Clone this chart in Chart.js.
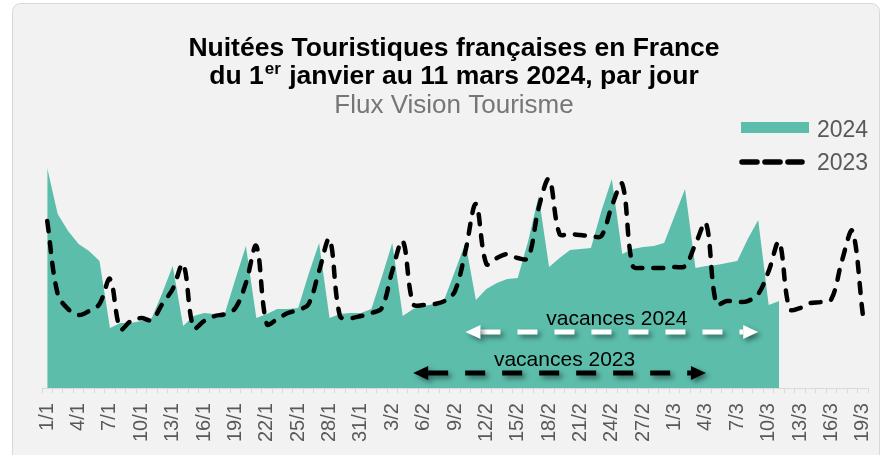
<!DOCTYPE html>
<html>
<head>
<meta charset="utf-8">
<script src="https://cdn.jsdelivr.net/npm/chart.js@4.4.1/dist/chart.umd.min.js"></script>
<style>
  html, body { margin: 0; padding: 0; background: #fff; }
  #wrap { width: 887px; height: 455px; position: relative; }
</style>
</head>
<body>
<div id="wrap"><canvas id="nuitees" width="887" height="455"></canvas></div>
<script>
// jours (calendrier 2024), du 1/1 au 19/3
const days = [
  '1/1','2/1','3/1','4/1','5/1','6/1','7/1','8/1','9/1','10/1','11/1','12/1','13/1','14/1','15/1','16/1',
  '17/1','18/1','19/1','20/1','21/1','22/1','23/1','24/1','25/1','26/1','27/1','28/1','29/1','30/1','31/1',
  '1/2','2/2','3/2','4/2','5/2','6/2','7/2','8/2','9/2','10/2','11/2','12/2','13/2','14/2','15/2','16/2',
  '17/2','18/2','19/2','20/2','21/2','22/2','23/2','24/2','25/2','26/2','27/2','28/2','29/2',
  '1/3','2/3','3/3','4/3','5/3','6/3','7/3','8/3','9/3','10/3','11/3','12/3','13/3','14/3','15/3','16/3',
  '17/3','18/3','19/3'
];

// nuitées (unités relatives, pas d'axe Y sur l'original)
const nuitees2024 = [
  220, 174, 157, 144, 137, 127, 60, 65, 65, 67, 70, 95, 122, 62, 72, 75,
  74, 75, 109, 142, 70, 74, 79, 79, 80, 114, 145, 70, 74, 75, 75,
  79, 111, 145, 72, 79, 82, 84, 89, 117, 145, 88, 99, 105, 109, 110, 147,
  192, 121, 130, 138, 139, 140, 177, 209, 134, 139, 141, 142, 145,
  172, 199, 120, 122, 123, 125, 127, 149, 168, 83, 87
];

const nuitees2023 = [
  167, 94, 79, 73, 77, 84, 109, 59, 67, 70, 68, 84, 99, 124, 60, 67,
  72, 74, 80, 105, 142, 64, 69, 75, 78, 84, 117, 149, 72, 70, 72,
  75, 80, 117, 147, 84, 83, 84, 87, 97, 137, 184, 124, 130, 134, 130, 130,
  180, 209, 154, 154, 153, 152, 152, 182, 204, 122, 120, 120, 120,
  121, 122, 144, 165, 84, 87, 86, 87, 94, 117, 146, 79, 80, 85, 86, 89,
  127, 157, 74
];

// périodes de vacances (début, fin) et hauteur des flèches
const vacances2024 = ['10/2', '9/3'];
const vacances2023 = ['5/2', '4/3'];
const vacancesLevel = [56, 15];

const TEAL = '#5cbdab';
const GREY = '#595959';
const FONT = '"Liberation Sans", Arial, sans-serif';

function drawArrow(ctx, x1, x2, y, color) {
  const head = 15, half = 7;
  ctx.save();
  ctx.shadowColor = 'rgba(0,0,0,0.45)';
  ctx.shadowBlur = 5;
  ctx.shadowOffsetX = 3;
  ctx.shadowOffsetY = 3;
  ctx.strokeStyle = color;
  ctx.fillStyle = color;
  ctx.lineWidth = 5;
  ctx.setLineDash([20, 17]);
  ctx.beginPath();
  ctx.moveTo(x1 + head, y);
  ctx.lineTo(x2 - head, y);
  ctx.stroke();
  ctx.setLineDash([]);
  ctx.beginPath();
  ctx.moveTo(x1, y);
  ctx.lineTo(x1 + head, y - half);
  ctx.lineTo(x1 + head, y + half);
  ctx.closePath();
  ctx.fill();
  ctx.beginPath();
  ctx.moveTo(x2, y);
  ctx.lineTo(x2 - head, y - half);
  ctx.lineTo(x2 - head, y + half);
  ctx.closePath();
  ctx.fill();
  ctx.restore();
}

const decor = {
  id: 'decor',
  beforeDraw(chart) {
    const ctx = chart.ctx;
    ctx.save();
    ctx.fillStyle = '#fff';
    ctx.fillRect(0, 0, chart.width, chart.height);
    ctx.beginPath();
    ctx.roundRect(12.5, 3.5, 867, 470, 8);
    ctx.fillStyle = '#f2f2f2';
    ctx.fill();
    ctx.strokeStyle = '#d9d9d9';
    ctx.lineWidth = 1;
    ctx.stroke();
    ctx.restore();
  },
  afterDatasetsDraw(chart) {
    const ctx = chart.ctx;
    const x = chart.scales.x, y = chart.scales.y;
    const sets = [[vacances2024, vacancesLevel[0], '#fff', 'vacances 2024'],
                  [vacances2023, vacancesLevel[1], '#000', 'vacances 2023']];
    sets.forEach(([period, level, color, text]) => {
      const x1 = x.getPixelForValue(days.indexOf(period[0]));
      const x2 = x.getPixelForValue(days.indexOf(period[1]));
      const py = y.getPixelForValue(level);
      drawArrow(ctx, x1, x2, py, color);
      ctx.save();
      ctx.font = '21px ' + FONT;
      ctx.fillStyle = '#000';
      ctx.textAlign = 'center';
      ctx.textBaseline = 'alphabetic';
      ctx.fillText(text, (x1 + x2) / 2 + 5, py - 7);
      ctx.restore();
    });
  },
  afterDraw(chart) {
    const ctx = chart.ctx;
    const cx = 454;
    ctx.save();
    ctx.textBaseline = 'alphabetic';
    ctx.fillStyle = '#000';
    ctx.textAlign = 'center';
    ctx.font = 'bold 26.5px ' + FONT;
    ctx.fillText('Nuitées Touristiques françaises en France', cx, 56);

    // deuxième ligne avec "er" en exposant
    const a = 'du 1', sup = 'er', b = ' janvier au 11 mars 2024, par jour';
    const big = 'bold 26.5px ' + FONT, small = 'bold 17px ' + FONT;
    ctx.font = big;
    const wa = ctx.measureText(a).width, wb = ctx.measureText(b).width;
    ctx.font = small;
    const ws = ctx.measureText(sup).width + 2;
    let left = cx - (wa + ws + wb) / 2;
    ctx.textAlign = 'left';
    ctx.font = big;
    ctx.fillText(a, left, 84);
    ctx.font = small;
    ctx.fillText(sup, left + wa + 1, 74);
    ctx.font = big;
    ctx.fillText(b, left + wa + ws, 84);

    ctx.textAlign = 'center';
    ctx.fillStyle = '#767676';
    ctx.font = '26px ' + FONT;
    ctx.fillText('Flux Vision Tourisme', cx, 113);

    // légende
    ctx.fillStyle = TEAL;
    ctx.fillRect(741, 122, 68, 11);
    ctx.strokeStyle = '#000';
    ctx.lineWidth = 5.5;
    ctx.lineCap = 'round';
    ctx.setLineDash([15, 8]);
    ctx.beginPath();
    ctx.moveTo(742, 162);
    ctx.lineTo(802, 162);
    ctx.stroke();
    ctx.setLineDash([]);
    ctx.fillStyle = GREY;
    ctx.textAlign = 'left';
    ctx.font = '23px ' + FONT;
    ctx.fillText('2024', 817, 137);
    ctx.fillText('2023', 817, 170);
    ctx.restore();
  }
};

new Chart(document.getElementById('nuitees'), {
  type: 'line',
  data: {
    labels: days,
    datasets: [
      {
        label: '2023',
        data: nuitees2023,
        borderColor: '#000',
        borderWidth: 4.5,
        borderDash: [10, 11],
        borderCapStyle: 'round',
        tension: 0.35,
        pointRadius: 0,
        fill: false,
        order: 1
      },
      {
        label: '2024',
        data: nuitees2024,
        borderColor: TEAL,
        backgroundColor: TEAL,
        borderWidth: 0,
        tension: 0,
        pointRadius: 0,
        fill: 'origin',
        order: 2
      }
    ]
  },
  options: {
    responsive: false,
    animation: false,
    layout: { padding: { left: 42, right: 19, top: 158, bottom: 3 } },
    plugins: {
      legend: { display: false },
      title: { display: false },
      tooltip: { enabled: false }
    },
    scales: {
      x: {
        offset: true,
        afterFit: (axis) => { axis.paddingLeft = 0; axis.paddingRight = 0; },
        grid: { offset: true, drawOnChartArea: false, drawTicks: true, tickLength: 5, color: '#d9d9d9' },
        border: { display: true, color: '#d9d9d9' },
        ticks: {
          autoSkip: false,
          minRotation: 90,
          maxRotation: 90,
          padding: 10,
          color: GREY,
          font: { family: FONT, size: 20 },
          callback: (v, i) => (i % 3 === 0 ? days[i] : '')
        }
      },
      y: { display: false, min: 0, max: 230 }
    }
  },
  plugins: [decor]
});
</script>
</body>
</html>
